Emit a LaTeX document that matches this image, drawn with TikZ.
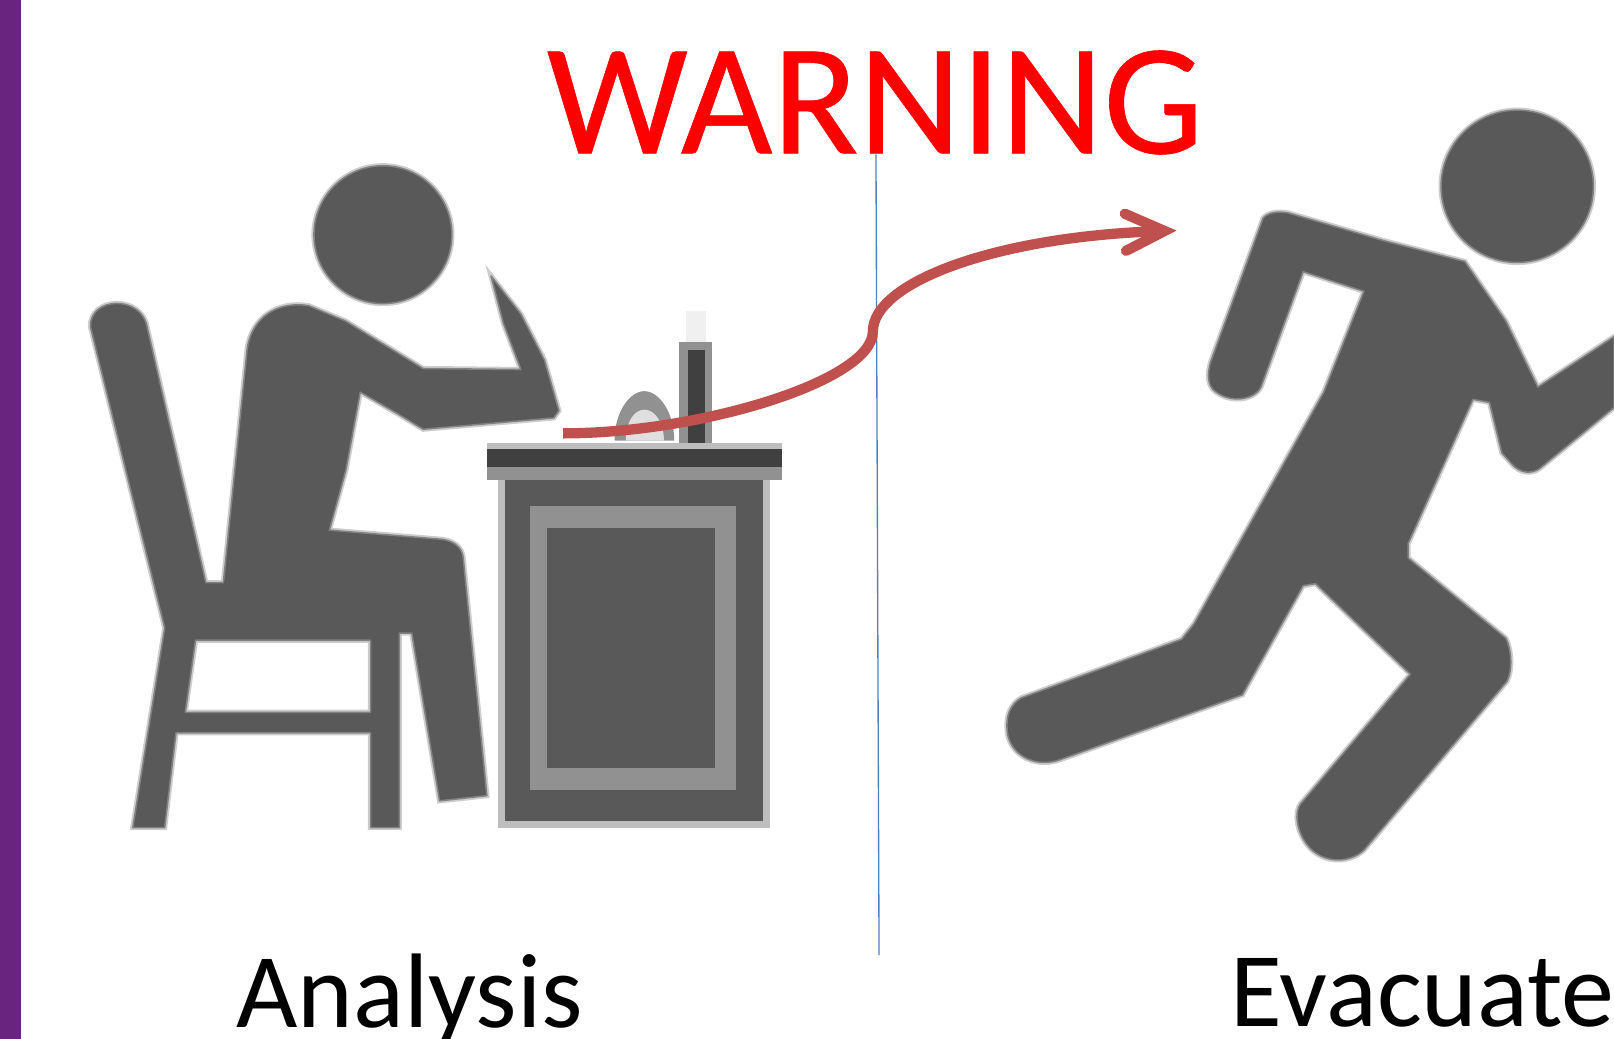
\documentclass[tikz,border=0pt]{standalone}
\usepackage{fontspec}
\setmainfont{Carlito}
\newfontfamily\warnfont[FakeBold=0.4]{Carlito}
\usetikzlibrary{arrows.meta,positioning}
\definecolor{SideViolet}{RGB}{104,36,126}
\definecolor{WarnRed}{RGB}{255,0,0}
\definecolor{ArrowRed}{RGB}{192,80,77}
\definecolor{DividerBlue}{RGB}{79,129,189}
\definecolor{IconGray}{RGB}{89,89,89}
\definecolor{IconDark}{RGB}{64,64,64}
\definecolor{IconMid}{RGB}{145,145,145}
\definecolor{IconHalo}{RGB}{190,190,190}
\tikzset{
  icon/.style={fill=IconGray,draw=IconGray!75,line width=1.5pt,line join=round,
    preaction={draw=IconGray!30,line width=5pt}},
  caption/.style={anchor=base,inner sep=0pt,font=\fontsize{103}{103}\selectfont},
}
\begin{document}
\begin{tikzpicture}[x=1pt,y=-1pt,>=Latex]
      \useasboundingbox (0,0) rectangle (1568,1009);
      \fill[SideViolet] (0,0) rectangle (20,1009);
      \coordinate (dividerTop) at (851,150);
      \coordinate (dividerEnd) at (854,928);
      \draw[DividerBlue,line width=1.3pt] (dividerTop)--(dividerEnd);
      \node[anchor=base,inner sep=0pt,text=WarnRed,font=\warnfont\fontsize{154}{154}\selectfont] (warning) at (850,149) {WARNING};
      \node[caption] (analysis) at (398,998) {Analysis};
      \node[caption] (evacuate) at (1382,997) {Evacuate};

      \path[icon] (372,228) circle (67);
      \path[icon,even odd rule]
        (88,318) .. controls (86,288) and (138,286) .. (143,318) -- (200,566) -- (217,566)
        -- (240,340) .. controls (244,308) and (270,292) .. (300,297) -- (336,312) -- (411,358)
        -- (506,359) -- (489,314) -- (477,268) -- (506,305) -- (529,350) -- (543,399)
        -- (538,406) -- (411,417) -- (388,403) -- (350,381) -- (336,457) -- (320,515)
        -- (430,524) .. controls (442,526) and (449,532) .. (450,542) -- (473,773)
        -- (427,778) -- (400,615) -- (388,615) -- (388,804) -- (360,804) -- (360,712)
        -- (171,712) -- (160,804) -- (129,804) -- (160,610) -- cycle
        (190,622) -- (360,622) -- (360,692) -- (180,692) -- cycle;

      \fill[IconHalo] (473,430) rectangle (760,436);
      \fill[IconDark] (473,436) rectangle (760,454);
      \fill[IconMid] (473,454) rectangle (760,466);
      \fill[IconHalo] (484,466) rectangle (748,804);
      \fill[IconGray] (491,466) rectangle (741,798);
      \fill[IconMid] (515,492) rectangle (715,767);
      \fill[IconGray] (531,513) rectangle (695,746);

      \fill[IconMid] (597,428) .. controls (597,400) and (612,380) .. (626,380) .. controls (640,380) and (655,400) .. (655,428) -- cycle;
      \fill[gray!25] (608,428) .. controls (608,410) and (616,398) .. (626,398) .. controls (636,398) and (645,410) .. (645,428) -- cycle;
      \fill[gray!12] (666,302) rectangle (686,332);
      \fill[IconMid] (660,332) rectangle (692,430);
      \fill[IconDark] (668,340) rectangle (685,430);

      \path[icon] (1474,181) circle (74);
      \path[icon]
        (1227,212) .. controls (1232,206) and (1242,205) .. (1252,207) -- (1345,234) -- (1423,254)
        -- (1463,312) -- (1494,376) -- (1568,327) -- (1568,396) -- (1496,455)
        .. controls (1488,461) and (1476,460) .. (1468,450) -- (1459,440) -- (1447,391) -- (1431,388)
        -- (1368,528) -- (1368,542) -- (1463,620) .. controls (1468,630) and (1470,650) .. (1464,662)
        -- (1325,826) .. controls (1310,840) and (1280,840) .. (1266,815) .. controls (1258,800) and (1258,785) .. (1266,778)
        -- (1370,655) -- (1278,567) -- (1266,569) -- (1207,675) -- (1030,738)
        .. controls (1008,746) and (984,736) .. (979,714) .. controls (976,695) and (982,684) .. (992,678)
        -- (1148,621) -- (1160,606) -- (1286,381) -- (1325,283) -- (1266,264) -- (1225,376)
        .. controls (1218,390) and (1192,392) .. (1178,378) .. controls (1172,370) and (1174,360) .. (1176,352) -- cycle;

      \coordinate (arrowStart) at (547,421);
      \coordinate (arrowEnd) at (1143,224);
      \draw[ArrowRed,line width=10pt,-{Straight Barb[length=38pt,width=36pt,line cap=round,line join=miter]}]
        (arrowStart) .. controls (680,421) and (848,370) .. (848,322) .. controls (848,275) and (965,230) .. (arrowEnd);
    \end{tikzpicture}
\end{document}
